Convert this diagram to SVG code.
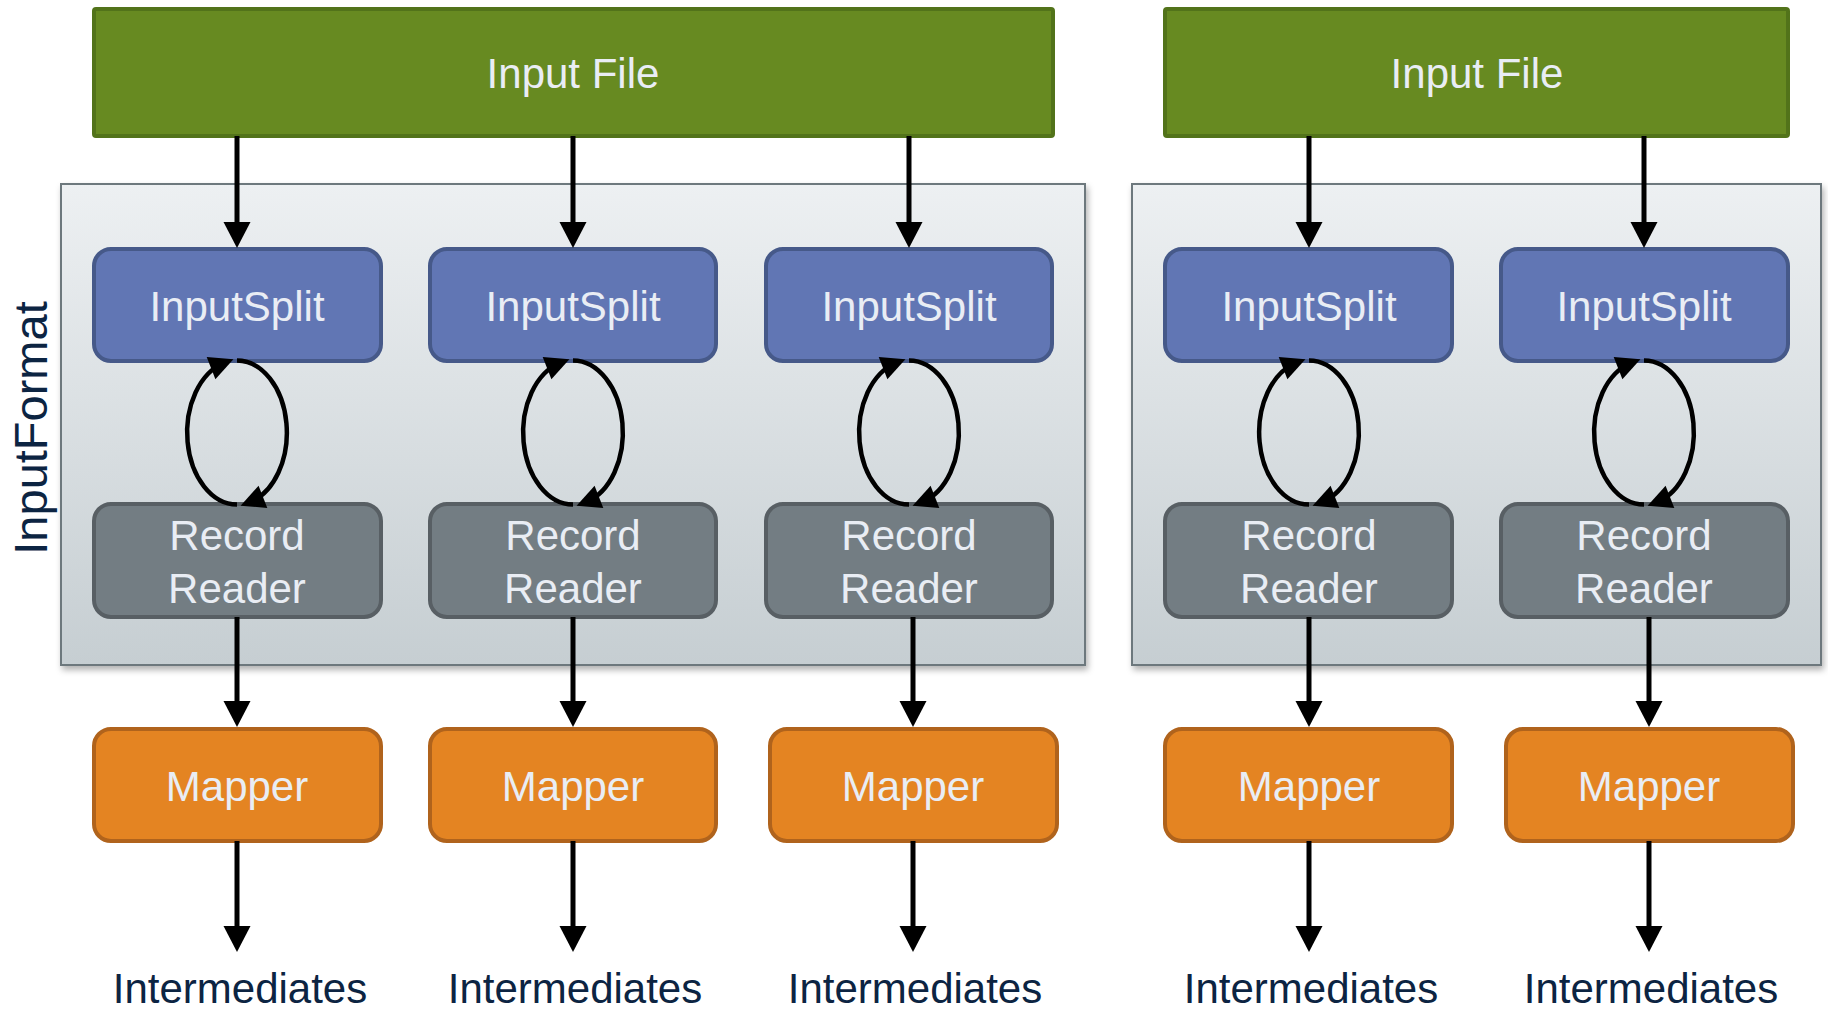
<svg xmlns="http://www.w3.org/2000/svg" width="1828" height="1010" viewBox="0 0 1828 1010">
  <defs>
    <linearGradient id="panelFill" x1="0" y1="0" x2="0" y2="1">
      <stop offset="0" stop-color="#edf0f2"/>
      <stop offset="1" stop-color="#c6ced2"/>
    </linearGradient>
    <filter id="panelShadow" x="-5%" y="-5%" width="110%" height="112%">
      <feDropShadow dx="2" dy="4" stdDeviation="3" flood-color="#000" flood-opacity="0.3"/>
    </filter>
    <!-- straight connector head: 26 long, 27 wide; tip lands 20px past the path end -->
    <marker id="head" markerUnits="userSpaceOnUse" markerWidth="26" markerHeight="27" refX="6" refY="13.5" orient="auto" overflow="visible">
      <path d="M0,0 L26,13.5 L0,27 Z" fill="#000"/>
    </marker>
    <!-- loop head: 24 long, 24 wide; tip lands 10px past the path end -->
    <marker id="loopHead" markerUnits="userSpaceOnUse" markerWidth="24" markerHeight="24" refX="14" refY="12" orient="auto" overflow="visible">
      <path d="M0,0 L24,12 L0,24 Z" fill="#000"/>
    </marker>
    <!-- split/reader exchange loop: two halves of an ellipse centred on x=237 -->
    <g id="exchange" class="loop">
      <path d="M237,504.5 A50,72 0 0 1 224.1,363"/>
      <path d="M237,360.5 A50,72 0 0 1 249.9,502"/>
    </g>
  </defs>
  <style>
    .label { font-family: "Liberation Sans", Arial, sans-serif; font-size: 42px; fill: #e9edf4; text-anchor: middle; }
    .outer { font-family: "Liberation Sans", Arial, sans-serif; font-size: 42px; fill: #0c2442; text-anchor: middle; }
    .file rect { fill: #678a21; stroke: #52731a; stroke-width: 4; }
    .split rect { fill: #6176b4; stroke: #465989; stroke-width: 4; }
    .reader rect { fill: #737d83; stroke: #585f64; stroke-width: 4; }
    .mapper rect { fill: #e48422; stroke: #b0631c; stroke-width: 4; }
    .panel { fill: url(#panelFill); stroke: #6d787d; stroke-width: 2; filter: url(#panelShadow); }
    .flow { stroke: #000; stroke-width: 5; fill: none; marker-end: url(#head); }
    .loop path { stroke: #000; stroke-width: 4.5; fill: none; marker-end: url(#loopHead); }
  </style>

  <!-- InputFormat panels -->
  <g id="panel-left">
    <rect class="panel" x="61" y="184" width="1024" height="481"/>
  </g>
  <g id="panel-right">
    <rect class="panel" x="1132" y="184" width="689" height="481"/>
  </g>
  <g id="label-inputformat">
    <text class="outer" style="font-size:47px" transform="translate(47,428) rotate(-90)">InputFormat</text>
  </g>

  <!-- Input files -->
  <g id="file-1" class="file">
    <rect x="94" y="9" width="959" height="127" rx="2"/>
    <text class="label" x="573" y="88">Input File</text>
  </g>
  <g id="file-2" class="file">
    <rect x="1165" y="9" width="623" height="127" rx="2"/>
    <text class="label" x="1477" y="88">Input File</text>
  </g>

  <!-- Input splits -->
  <g id="split-1" class="split"><rect x="94" y="249" width="287" height="112" rx="17"/><text class="label" x="237" y="321">InputSplit</text></g>
  <g id="split-2" class="split"><rect x="430" y="249" width="286" height="112" rx="17"/><text class="label" x="573" y="321">InputSplit</text></g>
  <g id="split-3" class="split"><rect x="766" y="249" width="286" height="112" rx="17"/><text class="label" x="909" y="321">InputSplit</text></g>
  <g id="split-4" class="split"><rect x="1165" y="249" width="287" height="112" rx="17"/><text class="label" x="1309" y="321">InputSplit</text></g>
  <g id="split-5" class="split"><rect x="1501" y="249" width="287" height="112" rx="17"/><text class="label" x="1644" y="321">InputSplit</text></g>

  <!-- Record readers -->
  <g id="reader-1" class="reader"><rect x="94" y="504" width="287" height="113" rx="17"/><text class="label" x="237" y="550">Record</text><text class="label" x="237" y="603">Reader</text></g>
  <g id="reader-2" class="reader"><rect x="430" y="504" width="286" height="113" rx="17"/><text class="label" x="573" y="550">Record</text><text class="label" x="573" y="603">Reader</text></g>
  <g id="reader-3" class="reader"><rect x="766" y="504" width="286" height="113" rx="17"/><text class="label" x="909" y="550">Record</text><text class="label" x="909" y="603">Reader</text></g>
  <g id="reader-4" class="reader"><rect x="1165" y="504" width="287" height="113" rx="17"/><text class="label" x="1309" y="550">Record</text><text class="label" x="1309" y="603">Reader</text></g>
  <g id="reader-5" class="reader"><rect x="1501" y="504" width="287" height="113" rx="17"/><text class="label" x="1644" y="550">Record</text><text class="label" x="1644" y="603">Reader</text></g>

  <!-- Mappers -->
  <g id="mapper-1" class="mapper"><rect x="94" y="729" width="287" height="112" rx="17"/><text class="label" x="237" y="801">Mapper</text></g>
  <g id="mapper-2" class="mapper"><rect x="430" y="729" width="286" height="112" rx="17"/><text class="label" x="573" y="801">Mapper</text></g>
  <g id="mapper-3" class="mapper"><rect x="770" y="729" width="287" height="112" rx="17"/><text class="label" x="913" y="801">Mapper</text></g>
  <g id="mapper-4" class="mapper"><rect x="1165" y="729" width="287" height="112" rx="17"/><text class="label" x="1309" y="801">Mapper</text></g>
  <g id="mapper-5" class="mapper"><rect x="1506" y="729" width="287" height="112" rx="17"/><text class="label" x="1649" y="801">Mapper</text></g>

  <!-- Outputs -->
  <g id="out-1"><text class="outer" x="240" y="1003">Intermediates</text></g>
  <g id="out-2"><text class="outer" x="575" y="1003">Intermediates</text></g>
  <g id="out-3"><text class="outer" x="915" y="1003">Intermediates</text></g>
  <g id="out-4"><text class="outer" x="1311" y="1003">Intermediates</text></g>
  <g id="out-5"><text class="outer" x="1651" y="1003">Intermediates</text></g>

  <!-- Connectors -->
  <g id="connectors">
    <!-- file to split -->
    <path class="flow" d="M237,136 V228"/>
    <path class="flow" d="M573,136 V228"/>
    <path class="flow" d="M909,136 V228"/>
    <path class="flow" d="M1309,136 V228"/>
    <path class="flow" d="M1644,136 V228"/>
    <!-- split / reader exchange loops -->
    <use href="#exchange"/>
    <use href="#exchange" x="336"/>
    <use href="#exchange" x="672"/>
    <use href="#exchange" x="1072"/>
    <use href="#exchange" x="1407"/>
    <!-- reader to mapper -->
    <path class="flow" d="M237,617 V707"/>
    <path class="flow" d="M573,617 V707"/>
    <path class="flow" d="M913,617 V707"/>
    <path class="flow" d="M1309,617 V707"/>
    <path class="flow" d="M1649,617 V707"/>
    <!-- mapper to intermediates -->
    <path class="flow" d="M237,841 V932"/>
    <path class="flow" d="M573,841 V932"/>
    <path class="flow" d="M913,841 V932"/>
    <path class="flow" d="M1309,841 V932"/>
    <path class="flow" d="M1649,841 V932"/>
  </g>
</svg>
